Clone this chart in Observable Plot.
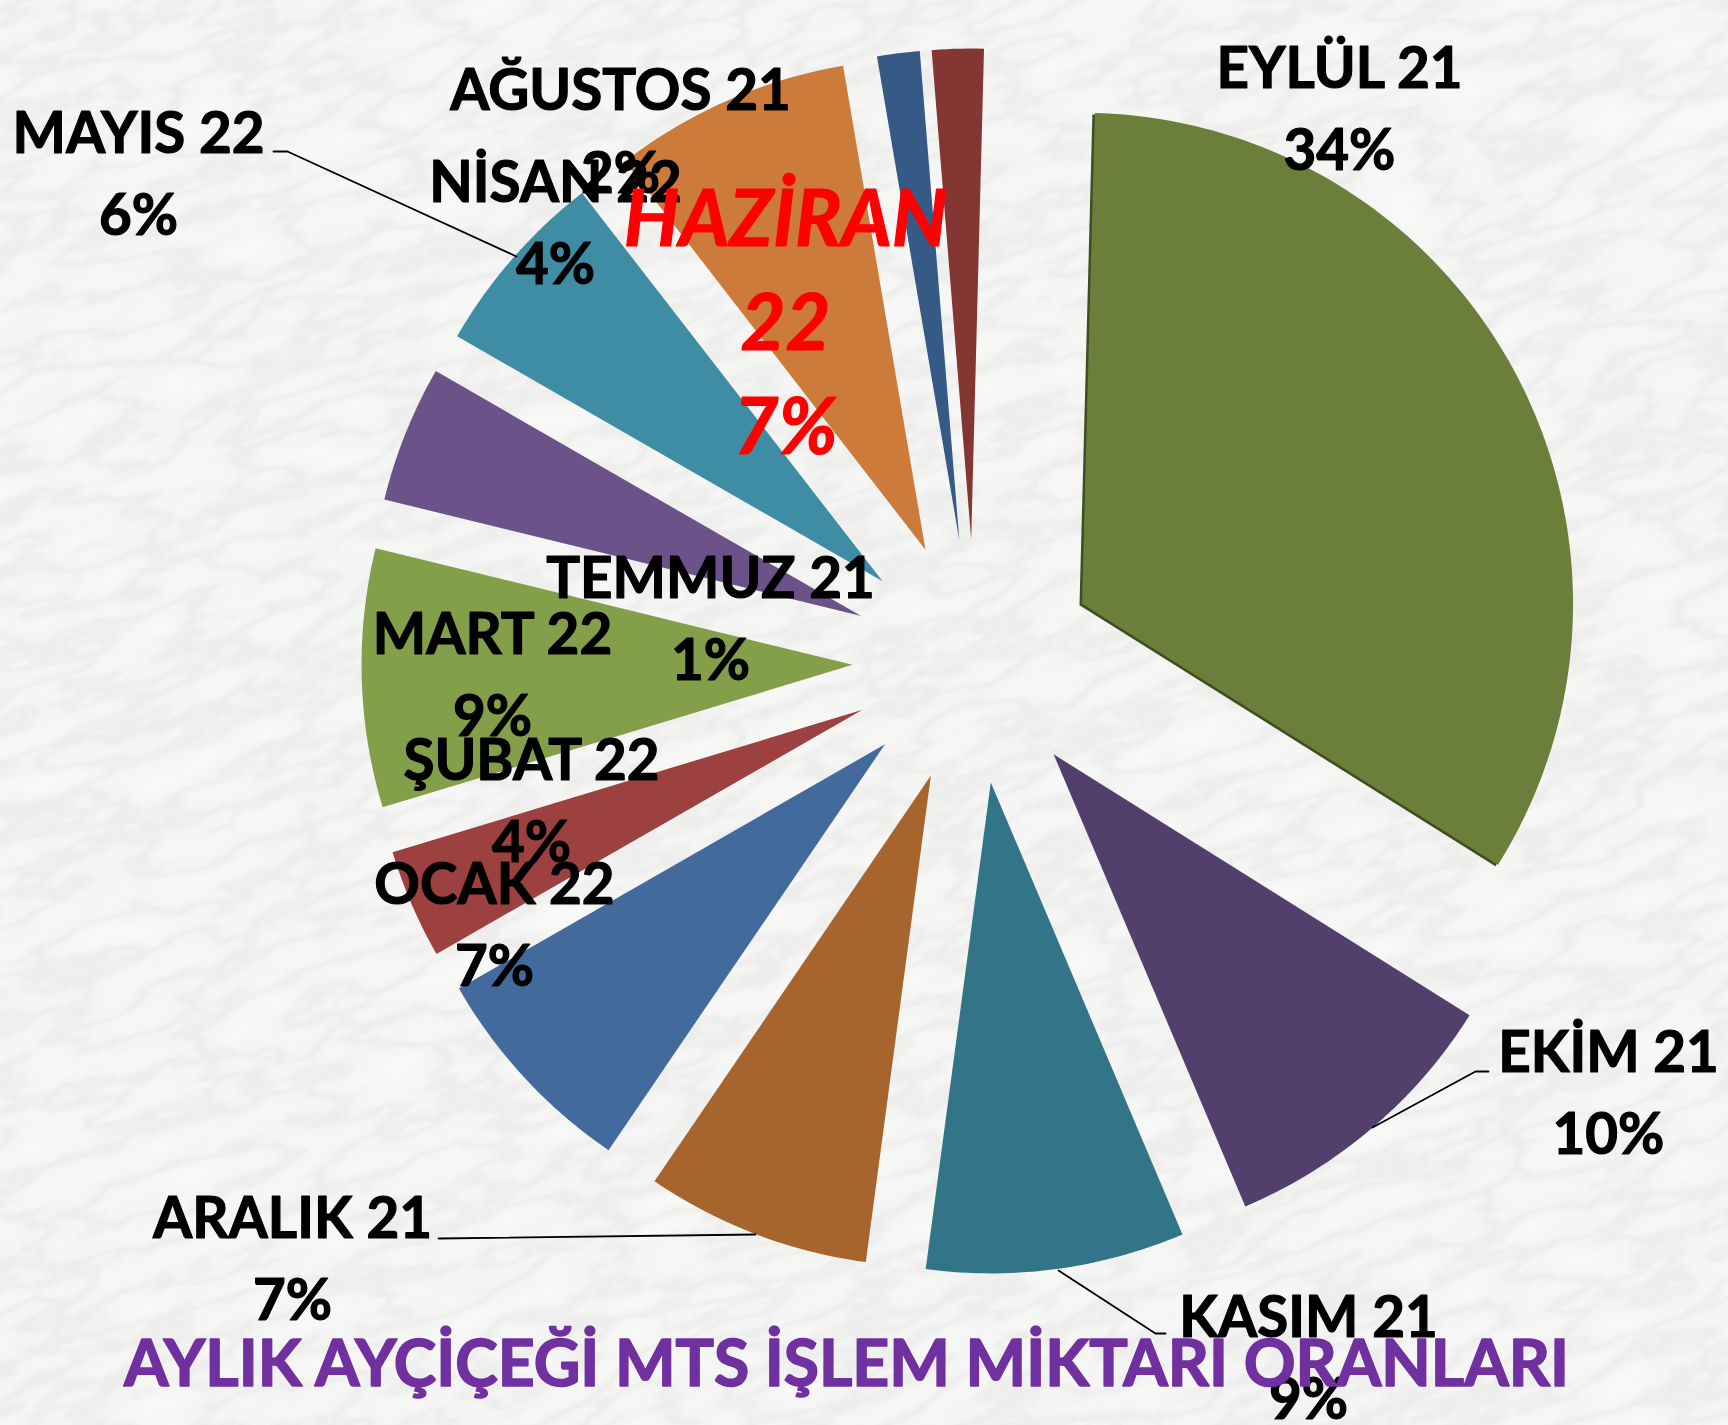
<!DOCTYPE html>
<html lang="tr">
<head>
<meta charset="utf-8">
<script src="https://cdn.jsdelivr.net/npm/d3@7"></script>
<script src="https://cdn.jsdelivr.net/npm/@observablehq/plot@0.6"></script>
<style>
html,body{margin:0;padding:0;background:#f7f7f5;}
#stage{position:relative;width:1728px;height:1425px;overflow:hidden;}
#marble{position:absolute;left:-300px;top:-400px;width:2400px;height:2300px;transform:rotate(-18deg);}
#chart{position:absolute;left:0;top:0;}
</style>
</head>
<body>
<div id="stage">
<svg id="marble" xmlns="http://www.w3.org/2000/svg" width="2400" height="2300">
  <defs>
    <filter id="veins" x="0" y="0" width="100%" height="100%" color-interpolation-filters="sRGB">
      <feTurbulence type="fractalNoise" baseFrequency="0.009 0.028" numOctaves="5" seed="11"/>
      <feColorMatrix type="matrix" values="0 0 0 0 .80  0 0 0 0 .80  0 0 0 0 .78  1 0 0 0 0"/>
      <feComponentTransfer><feFuncA type="table" tableValues="0 0 0 .04 .07 .28 .07 .04 0 0 0"/></feComponentTransfer>
      <feGaussianBlur stdDeviation="1.6"/>
    </filter>
  </defs>
  <rect width="2400" height="2300" fill="#f8f8f7"/>
  <rect width="2400" height="2300" filter="url(#veins)"/>
</svg>
<div id="chart"></div>
</div>
<script>
// Slice names, clockwise from the top
const months = ["EYLÜL 21","EKİM 21","KASIM 21","ARALIK 21","OCAK 22","ŞUBAT 22","MART 22","NİSAN 22","MAYIS 22","HAZİRAN 22","TEMMUZ 21","AĞUSTOS 21"];
// Slice sizes
const shares = [33.5,9.7,8.5,7.4,7.2,3.6,8.5,4.5,6.2,7.8,1.4,1.7];
// Percent labels as printed
const percents = ["34%","10%","9%","7%","7%","4%","9%","4%","6%","7%","1%","2%"];
const colors = ["#6b7f3b","#533f6c","#327589","#a7642d","#426a9c","#9d4140","#839f4a","#6b5289","#3f8da5","#cc7b3a","#365a86","#843633"];

// Layout (page pixels)
const W = 1728, H = 1425;
const cx = 974, cy = 661, R = 491, explode = 122, rotation = 1.5;
const labelX = [1339,1608,1308,292,494,531,492,555,138,785,710,620];
const nameY  = [87,1071,1336,1237,903,779,653,201,152,246,597,109];
const pctY   = [169,1153,1418,1319,985,861,735,283,234,350,679,192];
const juneY  = [245,349,453];
const leaderA = [[273,151],[287,151],[516,256]];
const leaderB = [[1488,1071],[1475,1071],[1372,1127]];
const leaderC = [[438,1238],[755,1234]];
const leaderD = [[1165,1333],[1155,1333],[1058,1270]];

const total = d3.sum(shares);
let acc = rotation;
const slices = months.map((name,i)=>{
  const a0 = acc, a1 = acc + shares[i]/total*360; acc = a1;
  const mid = (a0+a1)/2*Math.PI/180;
  const ax = cx + explode*Math.sin(mid), ay = cy - explode*Math.cos(mid);
  const pts = [{name,x:ax,y:ay}];
  const steps = Math.max(4,Math.ceil(a1-a0));
  for(let k=0;k<=steps;k++){
    const t=(a0+(a1-a0)*k/steps)*Math.PI/180;
    pts.push({name,x:ax+R*Math.sin(t),y:ay-R*Math.cos(t)});
  }
  pts.push({name,x:ax,y:ay});
  return pts;
});
const slicePoints = slices.flat();
const shadow = slices[0];
const labelRows = months.map((name,i)=>({name,pct:percents[i],x:labelX[i],ny:nameY[i],py:pctY[i]}));
const plain = labelRows.filter(d=>!d.name.startsWith("HAZİRAN"));
const junePct = labelRows.filter(d=>d.name.startsWith("HAZİRAN"));
const leaders = [leaderA,leaderB,leaderC,leaderD].flatMap((l,k)=>l.map(p=>({k,x:p[0],y:p[1]})));
const font = "Lato, Carlito, sans-serif";
const labelStyle = {fill:"#000",stroke:"#000",strokeWidth:1.2,fontFamily:font,fontWeight:700,fontSize:56.5,lineAnchor:"bottom"};
const juneStyle = {fill:"#ff0000",stroke:"#ff0000",strokeWidth:1.2,fontFamily:font,fontWeight:700,fontStyle:"italic",fontSize:77.5,lineAnchor:"bottom"};

const chart = Plot.plot({
  width:W,height:H,margin:0,
  style:{background:"transparent"},
  x:{domain:[0,W],range:[0,W],axis:null},
  y:{domain:[0,H],range:[0,H],axis:null},
  color:{domain:months,range:colors},
  marks:[
    Plot.line(shadow,{x:"x",y:"y",fill:"#3e4d22",stroke:"none",dx:-2.5,dy:1.5,curve:"linear"}),
    Plot.line(slicePoints,{x:"x",y:"y",z:"name",fill:"name",stroke:"none",curve:"linear"}),
    Plot.line(leaders,{x:"x",y:"y",z:"k",stroke:"#000",strokeWidth:1.8,curve:"linear"}),
    Plot.text(plain,{x:"x",y:"ny",text:"name",...labelStyle}),
    Plot.text(plain,{x:"x",y:"py",text:"pct",...labelStyle}),
    Plot.text(junePct,{x:"x",y:()=>juneY[0],text:()=>"HAZİRAN",...juneStyle}),
    Plot.text(junePct,{x:"x",y:()=>juneY[1],text:()=>"22",...juneStyle}),
    Plot.text(junePct,{x:"x",y:()=>juneY[2],text:"pct",...juneStyle}),
    Plot.text(["AYLIK AYÇİÇEĞİ MTS İŞLEM MİKTARI ORANLARI"],{x:()=>846,y:()=>1385,text:d=>d,fill:"#7030a0",stroke:"#7030a0",strokeWidth:1.6,fontFamily:font,fontWeight:700,fontSize:64.2,lineAnchor:"bottom"})
  ]
});
document.getElementById("chart").appendChild(chart);
</script>
</body>
</html>
